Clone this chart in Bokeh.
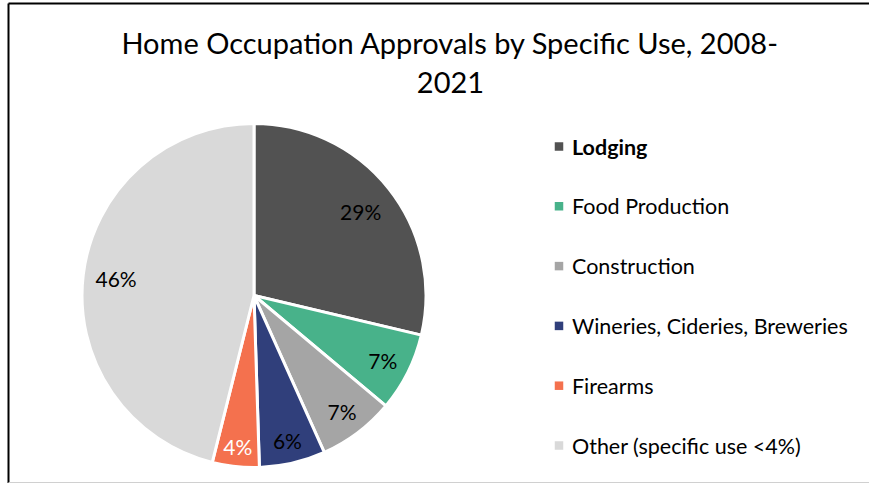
import math
from bokeh.plotting import figure
from bokeh.models import Range1d
from bokeh.core.properties import value
from bokeh.embed import file_html
from bokeh.resources import INLINE

# ---- data ----
categories = ["Lodging", "Food Production", "Construction",
              "Wineries, Cideries, Breweries", "Firearms", "Other (specific use <4%)"]
shares = [28.7, 7.4, 7.2, 6.2, 4.4, 46.1]
colors = ["#525252", "#48b28a", "#a5a5a5", "#303f7b", "#f4714e", "#d9d9d9"]
label_colors = ["black", "black", "black", "black", "white", "black"]
title_lines = ["Home Occupation Approvals by Specific Use, 2008-", "2021"]

FONT = "Lato"

# figure maps to picture pixels: x = X, y = -Y
p = figure(width=869, height=483, output_backend="svg", toolbar_location=None,
           x_range=Range1d(0, 869), y_range=Range1d(-483, 0),
           min_border=0, outline_line_color=None)
p.axis.visible = False
p.grid.visible = False
p.background_fill_color = "white"
p.border_fill_color = "white"

# frame lines
p.segment(x0=[8], y0=[-3], x1=[8], y1=[-483], line_color="black", line_width=2)
p.segment(x0=[8], y0=[-3], x1=[869], y1=[-3], line_color="black", line_width=2)
p.segment(x0=[8], y0=[-482], x1=[869], y1=[-482], line_color="#d0d0d0", line_width=1)

# title
p.text(x=[450, 450], y=[-41.5, -82.0], text=title_lines,
       text_font=value(FONT), text_font_size="29px", text_color="#000000",
       text_align="center", text_baseline="middle")

# pie
cx, cy, R = 253.5, -295.0, 172.0
total = sum(shares)
cum = 0.0
starts, ends, mids = [], [], []
for v in shares:
    a0 = 2 * math.pi * cum / total
    a1 = 2 * math.pi * (cum + v) / total
    starts.append(math.pi / 2 - a1)
    ends.append(math.pi / 2 - a0)
    mids.append((a0 + a1) / 2)
    cum += v

p.wedge(x=[cx] * len(shares), y=[cy] * len(shares), radius=R,
        start_angle=starts, end_angle=ends, fill_color=colors,
        line_color="white", line_width=3)

label_r = [136, 144, 146, 149, 152, 139]
lx = [cx + r * math.sin(m) for r, m in zip(label_r, mids)]
ly = [cy + r * math.cos(m) for r, m in zip(label_r, mids)]
labels = [f"{round(v / total * 100)}%" for v in shares]
p.text(x=lx, y=ly, text=labels, text_color=label_colors,
       text_font=value(FONT), text_font_size="21px",
       text_align="center", text_baseline="middle")

# legend
ys = [-(146 + 59.8 * i) for i in range(len(categories))]
p.rect(x=[558.5] * len(categories), y=ys, width=8.5, height=8.5,
       fill_color=colors, line_color=None)
styles = ["bold"] + ["normal"] * (len(categories) - 1)
for i, (c, y) in enumerate(zip(categories, ys)):
    p.text(x=[571.5], y=[y], text=[c], text_font=value(FONT),
           text_font_size="21.5px", text_font_style=styles[i], text_color="black",
           text_align="left", text_baseline="middle")

open("out.html", "w").write(file_html(p, INLINE))
